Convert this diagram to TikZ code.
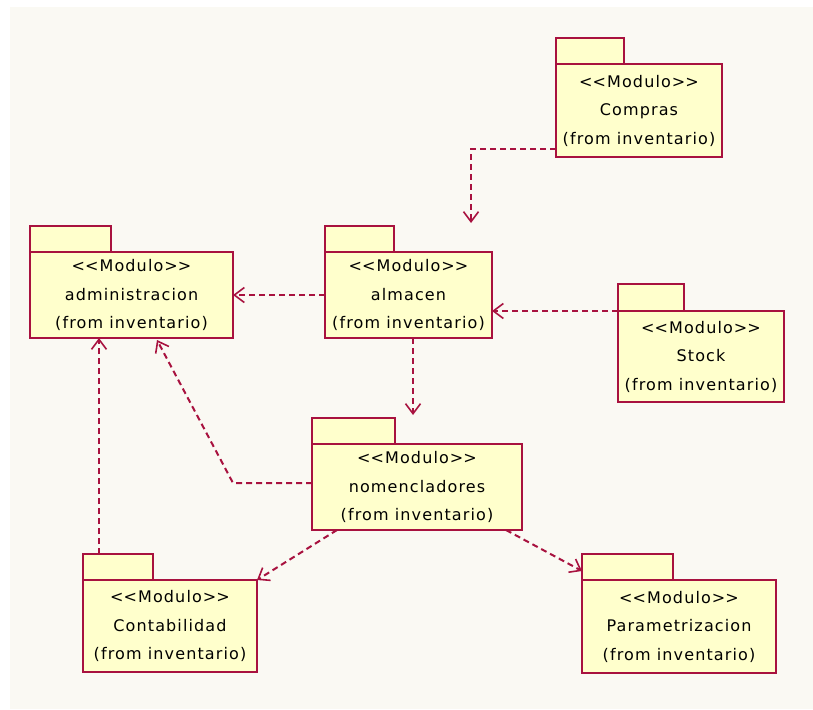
\documentclass[tikz,border=0pt]{standalone}
\usepackage{fontspec}
\setmainfont{DejaVu Sans}[LetterSpace=7]
\usetikzlibrary{arrows.meta}

\definecolor{pkgline}{HTML}{A8123F}
\definecolor{pkgfill}{HTML}{FFFFCC}
\definecolor{canvas}{HTML}{FAF9F3}

% angle brackets kept apart so they stay two separate characters
\newcommand\stereotype[1]{\textless\kern0pt\textless#1\textgreater\kern0pt\textgreater}

\tikzset{
  pkgbody/.style={draw=pkgline, fill=pkgfill, line width=1.8pt, anchor=north west,
    outer sep=0pt, inner sep=0pt, align=center, font=\fontsize{16}{28.5}\selectfont},
  pkgtab/.style={draw=pkgline, fill=pkgfill, line width=1.8pt, anchor=south west,
    outer sep=0pt, inner sep=0pt, minimum height=26pt},
  dep/.style={draw=pkgline, line width=2pt, dash pattern=on 6pt off 4pt,
    -{Straight Barb[length=10pt,width=15pt,line width=1.6pt]}}
}

\begin{document}
\begin{tikzpicture}[x=1pt, y=-1pt]
  \useasboundingbox (0,0) rectangle (813,709);
  \fill[white] (0,0) rectangle (813,709);
  \fill[canvas] (10,7) rectangle (813,709);

  % packages: tab first, then the body over its lower edge
  \node[pkgtab, minimum width=68pt] (cmptab) at (556,64) {};
  \node[pkgbody, minimum width=166pt, minimum height=93pt] (cmp) at (cmptab.south west)
    {\stereotype{Modulo}\\Compras\\(from inventario)};

  \node[pkgtab, minimum width=81pt] (admtab) at (30,252) {};
  \node[pkgbody, minimum width=203pt, minimum height=86pt] (adm) at (admtab.south west)
    {\stereotype{Modulo}\\administracion\\(from inventario)};

  \node[pkgtab, minimum width=69pt] (almtab) at (325,252) {};
  \node[pkgbody, minimum width=167pt, minimum height=86pt] (alm) at (almtab.south west)
    {\stereotype{Modulo}\\almacen\\(from inventario)};

  \node[pkgtab, minimum width=66pt, minimum height=27pt] (stktab) at (618,311) {};
  \node[pkgbody, minimum width=166pt, minimum height=91pt] (stk) at (stktab.south west)
    {\stereotype{Modulo}\\Stock\\(from inventario)};

  \node[pkgtab, minimum width=83pt] (nomtab) at (312,444) {};
  \node[pkgbody, minimum width=210pt, minimum height=86pt] (nom) at (nomtab.south west)
    {\stereotype{Modulo}\\nomencladores\\(from inventario)};

  \node[pkgtab, minimum width=70pt] (conttab) at (83,580) {};
  \node[pkgbody, minimum width=174pt, minimum height=92pt] (cont) at (conttab.south west)
    {\stereotype{Modulo}\\Contabilidad\\(from inventario)};

  \node[pkgtab, minimum width=91pt] (partab) at (582,580) {};
  \node[pkgbody, minimum width=194pt, minimum height=93pt] (par) at (partab.south west)
    {\stereotype{Modulo}\\Parametrizacion\\(from inventario)};

  % dependencies
  \draw[dep] ([yshift=8pt]cmp.south west) -| ([xshift=146pt,yshift=29pt]alm.north west);
  \draw[dep] (alm.west) -- (adm.east);
  \draw[dep] (stk.north west) -- (stk.north west -| alm.east);
  \draw[dep] ([xshift=88pt]alm.south west) -- ([xshift=88pt,yshift=3pt]alm.south west |- nomtab.north);
  \coordinate (nombend) at (233,483);
  \draw[dep] ([yshift=4pt]nom.west) -- (nombend) -- ([xshift=127pt,yshift=-2pt]adm.south west);
  \draw[dep] ([xshift=16pt]conttab.north west) -- ([xshift=16pt]conttab.north west |- adm.south);
  \draw[dep] ([xshift=25pt]nom.south west) -- (cont.north east);
  \draw[dep] ([xshift=-16pt]nom.south east) -- ([yshift=9pt]par.north west);
\end{tikzpicture}
\end{document}
